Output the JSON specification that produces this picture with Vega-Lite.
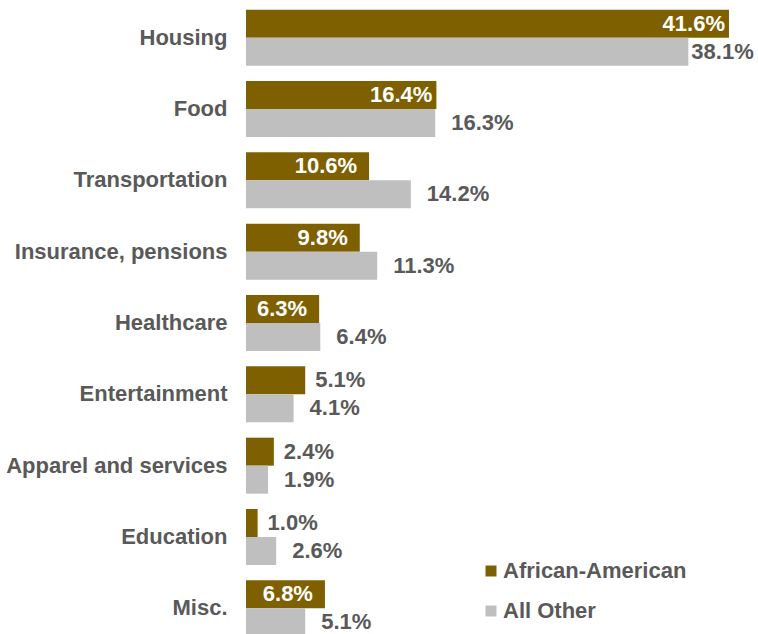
{
  "$schema": "https://vega.github.io/schema/vega-lite/v6.json",
  "width": 512,
  "height": 642,
  "padding": {"left": 246, "top": 2, "right": 0, "bottom": 0},
  "autosize": {"type": "none"},
  "config": {"view": {"stroke": null}, "font": "Liberation Sans"},
  "data": {"values": [
    {"category": "Housing", "group": "African-American", "value": 41.6},
    {"category": "Housing", "group": "All Other", "value": 38.1},
    {"category": "Food", "group": "African-American", "value": 16.4},
    {"category": "Food", "group": "All Other", "value": 16.3},
    {"category": "Transportation", "group": "African-American", "value": 10.6},
    {"category": "Transportation", "group": "All Other", "value": 14.2},
    {"category": "Insurance, pensions", "group": "African-American", "value": 9.8},
    {"category": "Insurance, pensions", "group": "All Other", "value": 11.3},
    {"category": "Healthcare", "group": "African-American", "value": 6.3},
    {"category": "Healthcare", "group": "All Other", "value": 6.4},
    {"category": "Entertainment", "group": "African-American", "value": 5.1},
    {"category": "Entertainment", "group": "All Other", "value": 4.1},
    {"category": "Apparel and services", "group": "African-American", "value": 2.4},
    {"category": "Apparel and services", "group": "All Other", "value": 1.9},
    {"category": "Education", "group": "African-American", "value": 1.0},
    {"category": "Education", "group": "All Other", "value": 2.6},
    {"category": "Misc.", "group": "African-American", "value": 6.8},
    {"category": "Misc.", "group": "All Other", "value": 5.1}
  ]},
  "transform": [{"calculate": "format(datum.value, '.1f') + '%'", "as": "lbl"}],
  "encoding": {
    "y": {
      "field": "category", "type": "nominal", "sort": null,
      "scale": {"paddingInner": 0.215, "paddingOuter": 0.1075},
      "axis": {"title": null, "domain": false, "ticks": false, "labelPadding": 19, "labelLimit": 0,
               "labelFontSize": 22, "labelFontWeight": "bold", "labelColor": "#595959"}
    },
    "yOffset": {"field": "group", "type": "nominal", "sort": ["African-American", "All Other"]},
    "x": {"field": "value", "type": "quantitative", "scale": {"domain": [0, 44.1], "nice": false}, "axis": null}
  },
  "layer": [
    {
      "mark": {"type": "bar"},
      "encoding": {
        "color": {
          "field": "group", "type": "nominal",
          "scale": {"domain": ["African-American", "All Other"], "range": ["#7F6000", "#BFBFBF"]},
          "legend": {
            "title": null, "orient": "none", "legendX": 234, "legendY": 558,
            "symbolType": "square", "symbolSize": 121, "symbolStrokeWidth": 0, "labelLimit": 0,
            "labelFontSize": 22, "labelFontWeight": "bold", "labelColor": "#595959",
            "rowPadding": 18, "labelOffset": 1, "symbolOpacity": 1
          }
        }
      }
    },
    {
      "transform": [{"filter": "datum.group == 'African-American' && datum.value >= 15"}],
      "mark": {"type": "text", "align": "right", "baseline": "middle", "dx": -4, "fontSize": 22, "fontWeight": "bold", "color": "white"},
      "encoding": {"text": {"field": "lbl", "type": "nominal"}}
    },
    {
      "transform": [{"filter": "datum.group == 'African-American' && datum.value >= 6 && datum.value < 15"}],
      "mark": {"type": "text", "align": "right", "baseline": "middle", "dx": -12, "fontSize": 22, "fontWeight": "bold", "color": "white"},
      "encoding": {"text": {"field": "lbl", "type": "nominal"}}
    },
    {
      "transform": [{"filter": "datum.group == 'African-American' && datum.value < 6"}],
      "mark": {"type": "text", "align": "left", "baseline": "middle", "dx": 10, "fontSize": 22, "fontWeight": "bold", "color": "#595959"},
      "encoding": {"text": {"field": "lbl", "type": "nominal"}}
    },
    {
      "transform": [{"filter": "datum.group == 'All Other' && datum.value >= 30"}],
      "mark": {"type": "text", "align": "left", "baseline": "middle", "dx": 3, "fontSize": 22, "fontWeight": "bold", "color": "#595959"},
      "encoding": {"text": {"field": "lbl", "type": "nominal"}}
    },
    {
      "transform": [{"filter": "datum.group == 'All Other' && datum.value < 30"}],
      "mark": {"type": "text", "align": "left", "baseline": "middle", "dx": 16, "fontSize": 22, "fontWeight": "bold", "color": "#595959"},
      "encoding": {"text": {"field": "lbl", "type": "nominal"}}
    }
  ]
}
